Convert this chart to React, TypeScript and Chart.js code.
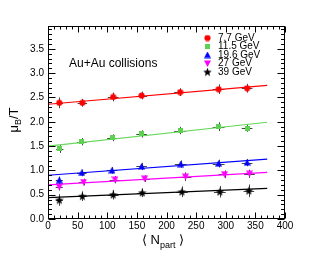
import React, { useEffect, useRef } from 'react';
import { Chart, registerables } from 'chart.js';
Chart.register(...registerables);

const FONT = '"Liberation Sans", Arial, Helvetica, sans-serif';

const seriesLabels = ['7.7 GeV', '11.5 GeV', '19.6 GeV', '27 GeV', '39 GeV'];
const seriesColors = ['#ff0000', '#5cd152', '#0000ff', '#ff00ff', '#000000'];
const seriesLineColors = ['#ff0000', '#66d85a', '#0000ff', '#ff00ff', '#000000'];
const seriesMarkers = ['circle', 'rect', 'triUp', 'triDown', 'star'];

const npart7 = [19, 58, 110, 158, 223, 288, 336];
const muT7 = [2.39, 2.39, 2.51, 2.54, 2.61, 2.67, 2.69];
const errY7 = [0.11, 0.08, 0.09, 0.08, 0.08, 0.1, 0.09];

const npart11 = [20, 57, 109, 158, 223, 288, 336];
const muT11 = [1.44, 1.59, 1.67, 1.75, 1.82, 1.9, 1.87];
const errY11 = [0.08, 0.075, 0.07, 0.075, 0.075, 0.09, 0.075];

const npart19 = [19, 57, 108, 158, 224, 288, 336];
const muT19 = [0.8, 0.95, 1.0, 1.08, 1.13, 1.14, 1.16];
const errY19 = [0.075, 0.07, 0.07, 0.075, 0.075, 0.08, 0.075];

const npart27 = [19, 60, 113, 163, 232, 298, 340];
const muT27 = [0.66, 0.76, 0.81, 0.83, 0.87, 0.92, 0.93];
const errY27 = [0.075, 0.07, 0.075, 0.07, 0.09, 0.08, 0.085];

const npart39 = [19, 58, 110, 159, 226, 290, 339];
const muT39 = [0.39, 0.47, 0.5, 0.54, 0.56, 0.56, 0.58];
const errY39 = [0.12, 0.1, 0.1, 0.09, 0.11, 0.12, 0.13];

const errXNpart = [6, 8, 9, 9, 10, 10, 9];

const fitRange = [0, 370];
const fit7 = [2.36, 2.75];
const fit11 = [1.5, 1.99];
const fit19 = [0.9, 1.23];
const fit27 = [0.7, 0.96];
const fit39 = [0.44, 0.63];

const X_MIN = 0, X_MAX = 400, X_STEP = 50, X_MINOR = 10;
const Y_MIN = 0, Y_MAX = 3.97, Y_STEP = 0.5, Y_MINOR = 0.1;

const legendRowsY = [38, 46.5, 55, 63.5, 72];

const series = [
  { npart: npart7, mu: muT7, ey: errY7, fit: fit7 },
  { npart: npart11, mu: muT11, ey: errY11, fit: fit11 },
  { npart: npart19, mu: muT19, ey: errY19, fit: fit19 },
  { npart: npart27, mu: muT27, ey: errY27, fit: fit27 },
  { npart: npart39, mu: muT39, ey: errY39, fit: fit39 },
];

function makeMarker(kind: string, color: string): HTMLCanvasElement {
  const c = document.createElement('canvas');
  const s = kind === 'star' ? 9 : kind === 'rect' ? 5 : 7;
  c.width = s; c.height = s;
  const g = c.getContext('2d')!;
  g.fillStyle = color;
  g.beginPath();
  if (kind === 'circle') {
    g.arc(s / 2, s / 2, s / 2 - 0.4, 0, Math.PI * 2);
  } else if (kind === 'rect') {
    g.rect(0, 0, s, s);
  } else if (kind === 'triUp') {
    g.moveTo(s / 2, 0); g.lineTo(s, s - 0.5); g.lineTo(0, s - 0.5); g.closePath();
  } else if (kind === 'triDown') {
    g.moveTo(0, 0.5); g.lineTo(s, 0.5); g.lineTo(s / 2, s); g.closePath();
  } else {
    const cx = s / 2, cy = s / 2 + 0.3;
    for (let i = 0; i < 10; i++) {
      const r = i % 2 ? (s / 2) * 0.42 : s / 2;
      const a = -Math.PI / 2 + (i * Math.PI) / 5;
      const px = cx + r * Math.cos(a), py = cy + r * Math.sin(a);
      if (i === 0) g.moveTo(px, py); else g.lineTo(px, py);
    }
    g.closePath();
  }
  g.fill();
  return c;
}

export default function App() {
  const ref = useRef<HTMLCanvasElement>(null);
  useEffect(() => {
    if (!ref.current) return;
    const markers = seriesMarkers.map((m, i) => makeMarker(m, seriesColors[i]));

    const datasets: any[] = [];
    series.forEach((s, i) => {
      datasets.push({
        type: 'line',
        label: seriesLabels[i] + ' fit',
        data: fitRange.map((x, k) => ({ x, y: s.fit[k] })),
        borderColor: seriesLineColors[i],
        borderWidth: 1.2,
        pointRadius: 0,
        showLine: true,
        fill: false,
        order: 2,
      });
    });
    series.forEach((s, i) => {
      datasets.push({
        type: 'scatter',
        label: seriesLabels[i],
        data: s.npart.map((x, k) => ({ x, y: s.mu[k] })),
        pointStyle: markers[i],
        pointRadius: 3,
        backgroundColor: seriesColors[i],
        borderColor: seriesColors[i],
        order: 1,
      });
    });

    const decor = {
      id: 'decor',
      beforeDatasetsDraw(chart: any) {
        const { ctx, scales } = chart;
        const x = scales.x, y = scales.y;
        ctx.save();
        ctx.strokeStyle = '#444';
        ctx.lineWidth = 1;
        series.forEach((s) => {
          s.npart.forEach((n, k) => {
            const px = Math.round(x.getPixelForValue(n)) + 0.5;
            const py = Math.round(y.getPixelForValue(s.mu[k])) + 0.5;
            ctx.beginPath();
            ctx.moveTo(px, y.getPixelForValue(s.mu[k] - s.ey[k]));
            ctx.lineTo(px, y.getPixelForValue(s.mu[k] + s.ey[k]));
            ctx.moveTo(x.getPixelForValue(n - errXNpart[k]), py);
            ctx.lineTo(x.getPixelForValue(n + errXNpart[k]), py);
            ctx.stroke();
          });
        });
        ctx.restore();
      },
      afterDraw(chart: any) {
        const { ctx, chartArea: a, scales } = chart;
        const x = scales.x, y = scales.y;
        ctx.save();
        ctx.strokeStyle = '#000';
        ctx.lineWidth = 1;
        const L = Math.round(a.left) + 0.5, R = Math.round(a.right) - 0.5;
        const T = Math.round(a.top) + 0.5, B = Math.round(a.bottom) - 0.5;
        ctx.strokeRect(L, T, R - L, B - T);
        ctx.beginPath();
        // y ticks
        for (let i = 0; Y_MIN + i * Y_MINOR <= Y_MAX + 1e-9; i++) {
          const v = Y_MIN + i * Y_MINOR;
          const major = i % 5 === 0;
          const len = major ? 7 : 3.5;
          const py = Math.round(y.getPixelForValue(v)) + 0.5;
          ctx.moveTo(L, py); ctx.lineTo(L + len, py);
          ctx.moveTo(R, py); ctx.lineTo(R - len, py);
        }
        // x ticks
        for (let i = 0; X_MIN + i * X_MINOR <= X_MAX + 1e-9; i++) {
          const v = X_MIN + i * X_MINOR;
          const major = i % 5 === 0;
          const len = major ? 6 : 3;
          const px = Math.round(x.getPixelForValue(v)) + 0.5;
          ctx.moveTo(px, B); ctx.lineTo(px, B - len);
          ctx.moveTo(px, T); ctx.lineTo(px, T + len);
        }
        ctx.stroke();

        // legend
        ctx.fillStyle = '#000';
        ctx.font = `10px ${FONT}`;
        ctx.textBaseline = 'middle';
        ctx.textAlign = 'left';
        seriesLabels.forEach((lab, i) => {
          const m = markers[i];
          ctx.drawImage(m, 207.5 - m.width / 2, legendRowsY[i] - m.height / 2);
          ctx.fillText(lab, 218, legendRowsY[i]);
        });

        // annotation
        ctx.font = `12px ${FONT}`;
        ctx.fillText('Au+Au collisions', 69, 64);

        // y title
        ctx.save();
        ctx.translate(18, 120);
        ctx.rotate(-Math.PI / 2);
        ctx.textBaseline = 'alphabetic';
        ctx.font = `13px ${FONT}`;
        const w1 = ctx.measureText('μ').width;
        const w3 = ctx.measureText('/T').width;
        ctx.font = `9px ${FONT}`;
        const w2 = ctx.measureText('B').width;
        const st = -(w1 + w2 + w3) / 2;
        ctx.font = `13px ${FONT}`;
        ctx.fillText('μ', st, 0);
        ctx.fillText('/T', st + w1 + w2, 0);
        ctx.font = `9px ${FONT}`;
        ctx.fillText('B', st + w1, 3);
        ctx.restore();

        // x title
        ctx.textBaseline = 'alphabetic';
        let cx = 142;
        ctx.font = `13px ${FONT}`;
        ctx.fillText('⟨', cx, 244);
        cx += ctx.measureText('⟨ ').width;
        ctx.fillText('N', cx, 244);
        cx += ctx.measureText('N').width;
        ctx.font = `9px ${FONT}`;
        ctx.fillText('part', cx, 248);
        cx += ctx.measureText('part').width;
        ctx.font = `13px ${FONT}`;
        cx += ctx.measureText(' ').width;
        ctx.fillText('⟩', cx, 244);
        ctx.restore();
      },
    };

    const chart = new Chart(ref.current, {
      type: 'scatter',
      data: { datasets },
      options: {
        responsive: false,
        animation: false,
        devicePixelRatio: 1,
        layout: { padding: { top: 26, right: 32, left: 0, bottom: 0 } },
        plugins: { legend: { display: false }, tooltip: { enabled: false } },
        scales: {
          x: {
            type: 'linear',
            min: X_MIN,
            max: X_MAX,
            afterFit: (s: any) => { s.height = 42; },
            grid: { display: false, drawTicks: false },
            border: { display: false },
            ticks: {
              stepSize: X_STEP,
              font: { family: FONT, size: 10 },
              color: '#000',
              padding: 1,
              maxRotation: 0,
              autoSkip: false,
            },
          },
          y: {
            type: 'linear',
            min: Y_MIN,
            max: Y_MAX,
            afterFit: (s: any) => { s.width = 48; },
            grid: { display: false, drawTicks: false },
            border: { display: false },
            ticks: {
              stepSize: Y_STEP,
              includeBounds: false,
              callback: (v: any) => Number(v).toFixed(1),
              font: { family: FONT, size: 10 },
              color: '#000',
              padding: 4,
              autoSkip: false,
            },
          },
        },
      } as any,
      plugins: [decor],
    });
    return () => chart.destroy();
  }, []);

  return (
    <div style={{ position: 'fixed', left: 0, top: 0, width: 317, height: 261, background: '#fff' }}>
      <canvas ref={ref} width={317} height={261} style={{ width: 317, height: 261, display: 'block' }} />
    </div>
  );
}
